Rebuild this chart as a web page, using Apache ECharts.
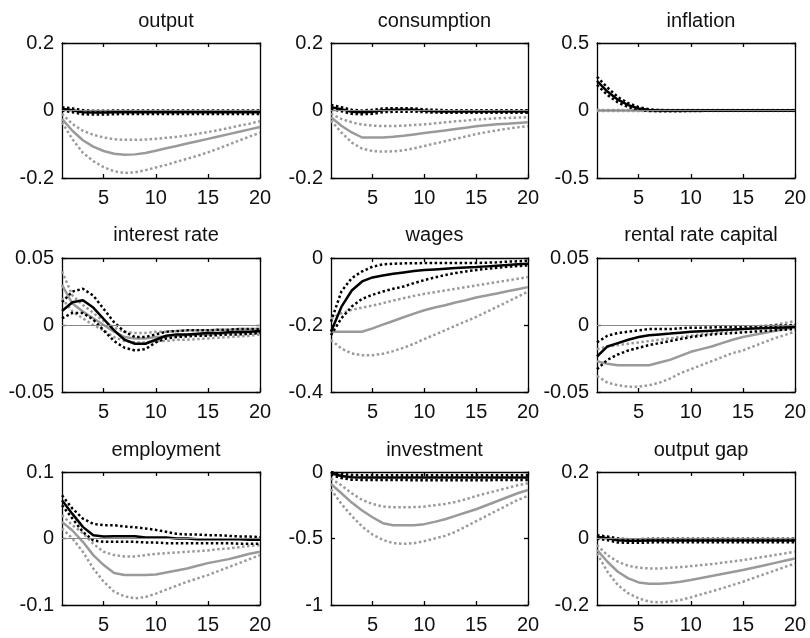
<!DOCTYPE html>
<html>
  <head>
    <meta charset="utf-8" />
    <title>impulse responses</title>
    <script src="https://cdn.jsdelivr.net/npm/echarts@6.0.0/dist/echarts.min.js"></script>
    <style>
      body { margin: 0; background: #fff; }
      #chart { width: 810px; height: 638px; }
    </style>
  </head>
  <body>
    <div id="chart"></div>
    <script>
      const periods = [1,2,3,4,5,6,7,8,9,10,11,12,13,14,15,16,17,18,19,20];
      const xTicks = [5, 10, 15, 20];

      // output
      const outputGrey   = [-0.025,-0.06,-0.088,-0.107,-0.12,-0.128,-0.131,-0.13,-0.126,-0.119,-0.112,-0.105,-0.098,-0.091,-0.084,-0.077,-0.07,-0.063,-0.056,-0.049];
      const outputGreyHi = [-0.01,-0.04,-0.06,-0.072,-0.08,-0.085,-0.087,-0.087,-0.086,-0.084,-0.081,-0.078,-0.074,-0.069,-0.064,-0.058,-0.052,-0.045,-0.039,-0.032];
      const outputGreyLo = [-0.035,-0.085,-0.125,-0.15,-0.168,-0.18,-0.185,-0.183,-0.177,-0.169,-0.161,-0.152,-0.143,-0.134,-0.124,-0.113,-0.101,-0.089,-0.077,-0.066];
      const outputBlack   = [0.005,0.001,-0.005,-0.006,-0.006,-0.005,-0.005,-0.005,-0.005,-0.005,-0.005,-0.005,-0.005,-0.005,-0.005,-0.005,-0.005,-0.005,-0.005,-0.005];
      const outputBlackHi = [0.01,0.006,0.001,-0.001,-0.001,0,0,0,0,0,0,0,0,0,0,0,0,0,0,0];
      const outputBlackLo = [0,-0.005,-0.011,-0.012,-0.012,-0.011,-0.01,-0.01,-0.01,-0.01,-0.01,-0.01,-0.01,-0.01,-0.01,-0.01,-0.01,-0.01,-0.01,-0.01];

      // consumption
      const consGrey   = [-0.02,-0.045,-0.065,-0.08,-0.08,-0.08,-0.078,-0.075,-0.071,-0.067,-0.063,-0.059,-0.055,-0.051,-0.047,-0.044,-0.041,-0.039,-0.037,-0.035];
      const consGreyHi = [-0.01,-0.025,-0.035,-0.042,-0.045,-0.046,-0.046,-0.045,-0.043,-0.041,-0.038,-0.035,-0.032,-0.03,-0.027,-0.025,-0.023,-0.022,-0.021,-0.02];
      const consGreyLo = [-0.03,-0.065,-0.095,-0.113,-0.12,-0.122,-0.121,-0.118,-0.112,-0.105,-0.098,-0.091,-0.084,-0.077,-0.07,-0.064,-0.059,-0.054,-0.05,-0.046];
      const consBlack   = [0.01,0.004,-0.004,-0.005,-0.004,0.001,0.002,0.002,0.002,-0.001,-0.002,-0.003,-0.003,-0.003,-0.003,-0.003,-0.003,-0.003,-0.003,-0.003];
      const consBlackHi = [0.016,0.01,0.002,0,0.002,0.006,0.007,0.007,0.006,0.003,0.002,0.001,0.001,0.001,0.001,0.001,0.001,0.001,0.001,0.001];
      const consBlackLo = [0.004,-0.002,-0.01,-0.011,-0.01,-0.005,-0.004,-0.004,-0.003,-0.005,-0.006,-0.007,-0.007,-0.007,-0.007,-0.007,-0.007,-0.007,-0.007,-0.007];

      // inflation
      const inflGrey   = [0,0,0,0,0,0,0,0,0,0,0,0,0,0,0,0,0,0,0,0];
      const inflGreyHi = [0.004,0.003,0.003,0.003,0.003,0.003,0.003,0.003,0.003,0.003,0.003,0.003,0.003,0.003,0.003,0.003,0.003,0.003,0.003,0.003];
      const inflGreyLo = [-0.004,-0.003,-0.003,-0.003,-0.003,-0.003,-0.003,-0.003,-0.003,-0.003,-0.003,-0.003,-0.003,-0.003,-0.003,-0.003,-0.003,-0.003,-0.003,-0.003];
      const inflBlack   = [0.22,0.14,0.08,0.04,0.015,0.003,0,0,0,0,0,0,0,0,0,0,0,0,0,0];
      const inflBlackHi = [0.25,0.17,0.1,0.055,0.025,0.008,0.003,0.002,0.001,0.001,0.001,0.001,0.001,0.001,0.001,0.001,0.001,0.001,0.001,0.001];
      const inflBlackLo = [0.19,0.115,0.06,0.025,0.006,-0.004,-0.005,-0.005,-0.005,-0.004,-0.003,-0.002,-0.002,-0.002,-0.002,-0.002,-0.002,-0.002,-0.002,-0.002];

      // interest rate
      const rateGrey   = [0.03,0.016,0.01,0.005,0,-0.005,-0.009,-0.01,-0.01,-0.009,-0.0085,-0.008,-0.0075,-0.007,-0.007,-0.0065,-0.006,-0.006,-0.0055,-0.005];
      const rateGreyHi = [0.04,0.022,0.015,0.009,0.003,-0.002,-0.005,-0.006,-0.006,-0.005,-0.005,-0.0045,-0.004,-0.004,-0.004,-0.0035,-0.0035,-0.003,-0.003,-0.003];
      const rateGreyLo = [0.02,0.01,0.005,0,-0.004,-0.009,-0.012,-0.013,-0.013,-0.012,-0.012,-0.011,-0.011,-0.0105,-0.01,-0.0095,-0.009,-0.0085,-0.008,-0.007];
      const rateBlack   = [0.0105,0.017,0.0185,0.013,0.0045,-0.004,-0.011,-0.014,-0.014,-0.011,-0.008,-0.007,-0.007,-0.0065,-0.006,-0.006,-0.0055,-0.005,-0.005,-0.0045];
      const rateBlackHi = [0.017,0.025,0.027,0.022,0.012,0.002,-0.005,-0.009,-0.009,-0.007,-0.005,-0.0045,-0.004,-0.004,-0.004,-0.0035,-0.0035,-0.003,-0.003,-0.003];
      const rateBlackLo = [0.005,0.009,0.009,0.004,-0.004,-0.012,-0.017,-0.019,-0.018,-0.013,-0.01,-0.009,-0.0085,-0.008,-0.008,-0.0075,-0.007,-0.007,-0.0065,-0.006];

      // wages
      const wageGrey   = [-0.22,-0.22,-0.22,-0.22,-0.21,-0.199,-0.188,-0.177,-0.166,-0.156,-0.148,-0.141,-0.133,-0.126,-0.118,-0.112,-0.106,-0.099,-0.093,-0.087];
      const wageGreyHi = [-0.18,-0.165,-0.155,-0.148,-0.142,-0.135,-0.127,-0.12,-0.113,-0.107,-0.102,-0.097,-0.092,-0.087,-0.082,-0.077,-0.072,-0.067,-0.062,-0.057];
      const wageGreyLo = [-0.245,-0.27,-0.285,-0.29,-0.29,-0.286,-0.278,-0.268,-0.256,-0.242,-0.229,-0.216,-0.202,-0.189,-0.176,-0.161,-0.146,-0.131,-0.116,-0.1];
      const wageBlack   = [-0.22,-0.146,-0.097,-0.07,-0.058,-0.052,-0.047,-0.043,-0.039,-0.036,-0.034,-0.032,-0.03,-0.028,-0.027,-0.025,-0.023,-0.021,-0.019,-0.017];
      const wageBlackHi = [-0.19,-0.1,-0.06,-0.04,-0.026,-0.019,-0.017,-0.016,-0.016,-0.015,-0.015,-0.015,-0.015,-0.015,-0.015,-0.014,-0.013,-0.011,-0.01,-0.008];
      const wageBlackLo = [-0.23,-0.18,-0.145,-0.122,-0.11,-0.1,-0.092,-0.085,-0.075,-0.066,-0.058,-0.051,-0.045,-0.04,-0.036,-0.032,-0.029,-0.026,-0.024,-0.022];

      // rental rate capital
      const rentGrey   = [-0.027,-0.029,-0.03,-0.03,-0.03,-0.03,-0.028,-0.026,-0.023,-0.02,-0.018,-0.016,-0.0135,-0.011,-0.009,-0.0075,-0.006,-0.0045,-0.003,-0.0015];
      const rentGreyHi = [-0.018,-0.016,-0.015,-0.014,-0.013,-0.012,-0.011,-0.01,-0.009,-0.008,-0.007,-0.006,-0.005,-0.004,-0.003,-0.002,-0.001,0,0.0015,0.003];
      const rentGreyLo = [-0.038,-0.043,-0.045,-0.046,-0.046,-0.045,-0.043,-0.04,-0.036,-0.033,-0.03,-0.027,-0.024,-0.021,-0.019,-0.016,-0.013,-0.01,-0.0075,-0.005];
      const rentBlack   = [-0.0235,-0.016,-0.0135,-0.011,-0.009,-0.0076,-0.007,-0.0064,-0.0057,-0.005,-0.0046,-0.0042,-0.0038,-0.0034,-0.003,-0.0027,-0.0024,-0.0021,-0.0018,-0.0015];
      const rentBlackHi = [-0.013,-0.008,-0.006,-0.005,-0.004,-0.003,-0.003,-0.003,-0.0025,-0.002,-0.002,-0.0018,-0.0016,-0.0014,-0.0012,-0.001,-0.0008,-0.0005,-0.0003,0];
      const rentBlackLo = [-0.033,-0.026,-0.022,-0.019,-0.017,-0.015,-0.0135,-0.012,-0.0105,-0.009,-0.008,-0.007,-0.0065,-0.006,-0.0055,-0.005,-0.0045,-0.004,-0.0035,-0.003];

      // employment
      const empGrey   = [0.025,0.012,-0.005,-0.025,-0.04,-0.052,-0.055,-0.055,-0.055,-0.054,-0.051,-0.048,-0.045,-0.041,-0.037,-0.034,-0.031,-0.027,-0.023,-0.02];
      const empGreyHi = [0.035,0.02,0.008,-0.008,-0.02,-0.025,-0.027,-0.027,-0.025,-0.023,-0.022,-0.021,-0.02,-0.019,-0.018,-0.016,-0.015,-0.013,-0.011,-0.01];
      const empGreyLo = [0.015,0,-0.02,-0.045,-0.065,-0.08,-0.087,-0.09,-0.088,-0.083,-0.077,-0.071,-0.065,-0.06,-0.055,-0.049,-0.043,-0.037,-0.031,-0.025];
      const empBlack   = [0.0575,0.037,0.0175,0.005,0.003,0.0035,0.0035,0.0035,0.0015,0.0015,0.0015,0,0,-0.001,-0.001,-0.001,-0.001,-0.001,-0.002,-0.002];
      const empBlackHi = [0.065,0.045,0.03,0.022,0.02,0.02,0.018,0.017,0.015,0.013,0.01,0.007,0.006,0.006,0.005,0.005,0.004,0.003,0.003,0.002];
      const empBlackLo = [0.05,0.03,0.01,-0.003,-0.005,-0.005,-0.005,-0.005,-0.006,-0.006,-0.007,-0.007,-0.007,-0.007,-0.007,-0.007,-0.007,-0.008,-0.008,-0.008];

      // investment
      const invGrey   = [-0.09,-0.16,-0.23,-0.29,-0.34,-0.385,-0.4,-0.4,-0.4,-0.392,-0.375,-0.355,-0.33,-0.305,-0.28,-0.25,-0.22,-0.19,-0.16,-0.135];
      const invGreyHi = [-0.05,-0.1,-0.16,-0.21,-0.24,-0.26,-0.265,-0.265,-0.264,-0.26,-0.25,-0.24,-0.225,-0.205,-0.18,-0.16,-0.14,-0.12,-0.1,-0.085];
      const invGreyLo = [-0.13,-0.24,-0.33,-0.41,-0.47,-0.51,-0.535,-0.54,-0.535,-0.52,-0.5,-0.48,-0.45,-0.41,-0.37,-0.33,-0.29,-0.25,-0.21,-0.18];
      const invBlack   = [-0.01,-0.03,-0.04,-0.042,-0.042,-0.042,-0.042,-0.042,-0.042,-0.042,-0.042,-0.042,-0.042,-0.042,-0.042,-0.042,-0.042,-0.042,-0.042,-0.042];
      const invBlackHi = [0,-0.015,-0.022,-0.024,-0.024,-0.024,-0.024,-0.024,-0.024,-0.024,-0.024,-0.024,-0.024,-0.024,-0.024,-0.024,-0.024,-0.024,-0.024,-0.024];
      const invBlackLo = [-0.02,-0.045,-0.058,-0.06,-0.06,-0.06,-0.06,-0.06,-0.062,-0.062,-0.062,-0.062,-0.062,-0.062,-0.062,-0.062,-0.06,-0.06,-0.06,-0.06];

      // output gap
      const gapGrey   = [-0.034,-0.07,-0.1,-0.12,-0.132,-0.136,-0.136,-0.134,-0.13,-0.125,-0.119,-0.113,-0.107,-0.101,-0.095,-0.088,-0.081,-0.074,-0.067,-0.06];
      const gapGreyHi = [-0.02,-0.05,-0.07,-0.082,-0.088,-0.09,-0.09,-0.088,-0.086,-0.083,-0.08,-0.077,-0.073,-0.069,-0.065,-0.06,-0.055,-0.05,-0.045,-0.04];
      const gapGreyLo = [-0.045,-0.1,-0.14,-0.165,-0.18,-0.19,-0.192,-0.19,-0.185,-0.177,-0.168,-0.159,-0.15,-0.14,-0.13,-0.119,-0.108,-0.097,-0.086,-0.075];
      const gapBlack   = [0.005,0.001,-0.005,-0.007,-0.007,-0.006,-0.006,-0.006,-0.006,-0.006,-0.006,-0.006,-0.006,-0.006,-0.006,-0.006,-0.006,-0.006,-0.006,-0.006];
      const gapBlackHi = [0.01,0.006,0,-0.002,-0.002,-0.001,-0.001,-0.001,-0.001,-0.001,-0.001,-0.001,-0.001,-0.001,-0.001,-0.001,-0.001,-0.001,-0.001,-0.001];
      const gapBlackLo = [0,-0.005,-0.012,-0.013,-0.013,-0.012,-0.011,-0.011,-0.011,-0.011,-0.011,-0.011,-0.011,-0.011,-0.011,-0.011,-0.011,-0.011,-0.011,-0.011];

      const panels = [
        { name: 'output', min: -0.2, max: 0.2, step: 0.2, lines: [outputGrey, outputGreyHi, outputGreyLo, outputBlack, outputBlackHi, outputBlackLo] },
        { name: 'consumption', min: -0.2, max: 0.2, step: 0.2, lines: [consGrey, consGreyHi, consGreyLo, consBlack, consBlackHi, consBlackLo] },
        { name: 'inflation', min: -0.5, max: 0.5, step: 0.5, lines: [inflGrey, inflGreyHi, inflGreyLo, inflBlack, inflBlackHi, inflBlackLo] },
        { name: 'interest rate', min: -0.05, max: 0.05, step: 0.05, lines: [rateGrey, rateGreyHi, rateGreyLo, rateBlack, rateBlackHi, rateBlackLo] },
        { name: 'wages', min: -0.4, max: 0, step: 0.2, lines: [wageGrey, wageGreyHi, wageGreyLo, wageBlack, wageBlackHi, wageBlackLo] },
        { name: 'rental rate capital', min: -0.05, max: 0.05, step: 0.05, lines: [rentGrey, rentGreyHi, rentGreyLo, rentBlack, rentBlackHi, rentBlackLo] },
        { name: 'employment', min: -0.1, max: 0.1, step: 0.1, lines: [empGrey, empGreyHi, empGreyLo, empBlack, empBlackHi, empBlackLo] },
        { name: 'investment', min: -1, max: 0, step: 0.5, lines: [invGrey, invGreyHi, invGreyLo, invBlack, invBlackHi, invBlackLo] },
        { name: 'output gap', min: -0.2, max: 0.2, step: 0.2, lines: [gapGrey, gapGreyHi, gapGreyLo, gapBlack, gapBlackHi, gapBlackLo] }
      ];

      const colLeft = [62, 331, 597];
      const colWidth = [198, 197, 198];
      const rowTop = [43, 258, 472];
      const rowHeight = [135, 134, 133];
      const titleTop = [6, 220, 435];

      const GREY = '#9a9a9a';
      const font = 'Liberation Sans, Arial, sans-serif';
      const boxLine = { show: true, onZero: false, lineStyle: { color: '#000', width: 1.3 } };
      const tick = { show: true, inside: true, length: 4, lineStyle: { color: '#000', width: 1.3 } };

      const grid = [], xAxis = [], yAxis = [], series = [], title = [];

      panels.forEach((p, i) => {
        const r = Math.floor(i / 3), c = i % 3;
        grid.push({ left: colLeft[c], top: rowTop[r], width: colWidth[c], height: rowHeight[r] });
        title.push({
          text: p.name, left: colLeft[c] + colWidth[c] / 2, top: titleTop[r], textAlign: 'center',
          textStyle: { fontFamily: font, fontSize: 20, fontWeight: 'normal', color: '#111' }
        });
        xAxis.push({
          type: 'value', gridIndex: i, min: 1, max: 20, position: 'bottom',
          axisLine: boxLine, splitLine: { show: false },
          axisTick: Object.assign({ customValues: xTicks }, tick),
          axisLabel: { customValues: xTicks, fontFamily: font, fontSize: 20, color: '#111', margin: 10 }
        });
        xAxis.push({
          type: 'value', gridIndex: i, min: 1, max: 20, position: 'top',
          axisLine: boxLine, splitLine: { show: false },
          axisTick: Object.assign({ customValues: xTicks }, tick),
          axisLabel: { show: false }
        });
        yAxis.push({
          type: 'value', gridIndex: i, min: p.min, max: p.max, interval: p.step, position: 'left',
          axisLine: boxLine, splitLine: { show: false }, axisTick: tick,
          axisLabel: { fontFamily: font, fontSize: 20, color: '#111', margin: 8 }
        });
        yAxis.push({
          type: 'value', gridIndex: i, min: p.min, max: p.max, interval: p.step, position: 'right',
          axisLine: boxLine, splitLine: { show: false }, axisTick: tick, axisLabel: { show: false }
        });

        p.lines.forEach((vals, k) => {
          const black = k >= 3;
          const mid = k % 3 === 0;
          const s = {
            type: 'line', xAxisIndex: 2 * i, yAxisIndex: 2 * i, symbol: 'none', silent: true,
            data: periods.map((x, j) => [x, vals[j]]),
            lineStyle: { color: black ? '#000' : GREY, width: 2.5, type: mid ? 'solid' : [2.5, 2.5] },
            z: black ? 4 : 3
          };
          // thin zero reference line, skipped where 0 is the top of the box
          if (k === 0 && p.max > 0) {
            s.markLine = {
              silent: true, symbol: 'none', label: { show: false },
              lineStyle: { color: '#888', width: 1, type: 'solid' },
              data: [{ yAxis: 0 }]
            };
          }
          series.push(s);
        });
      });

      const chart = echarts.init(document.getElementById('chart'));
      chart.setOption({ animation: false, backgroundColor: '#fff', title, grid, xAxis, yAxis, series });
    </script>
  </body>
</html>
